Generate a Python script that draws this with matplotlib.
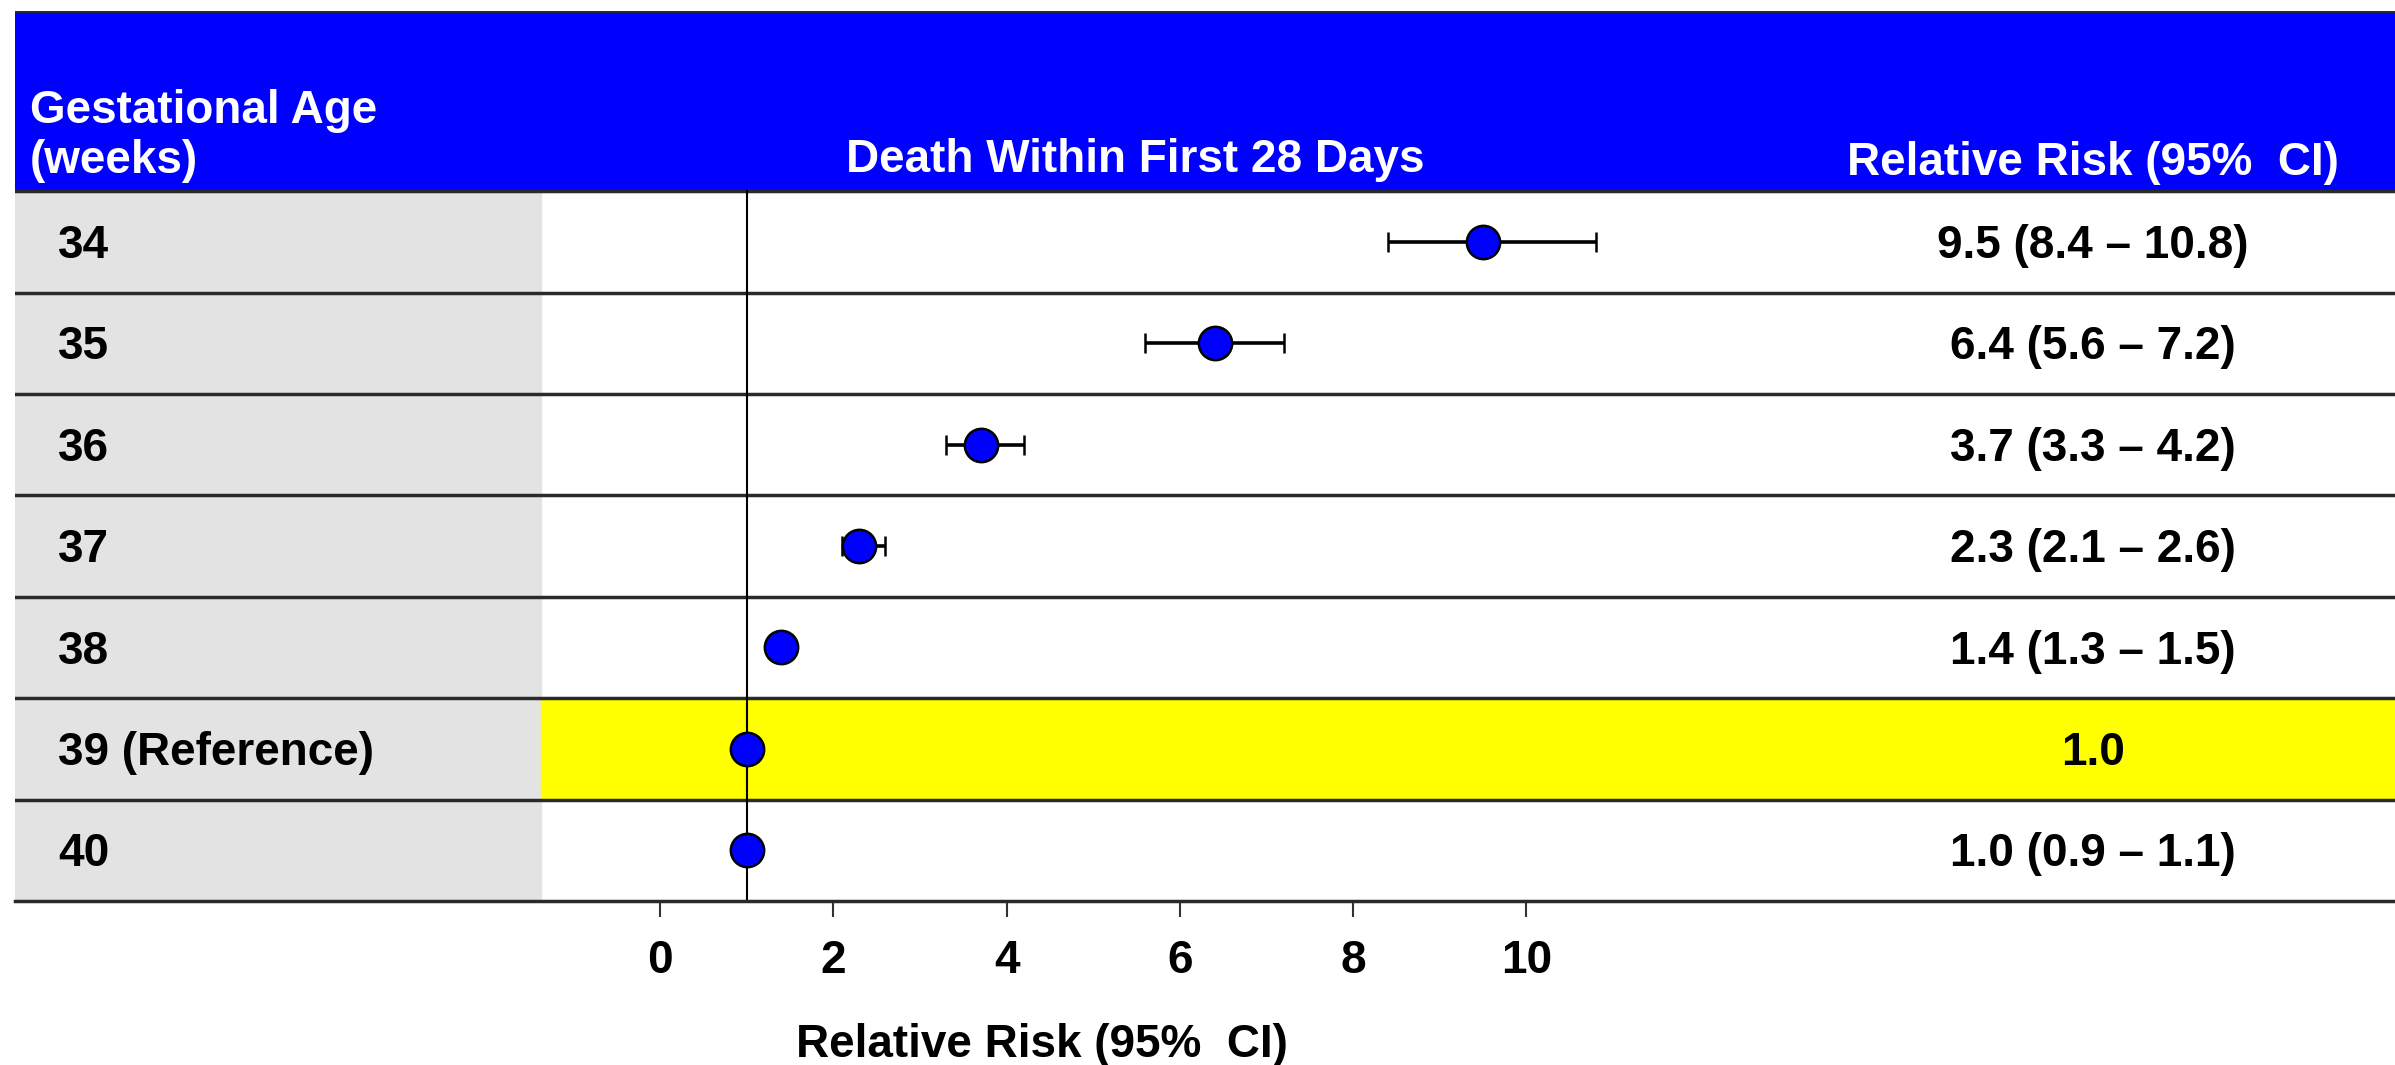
import matplotlib.pyplot as plt
from matplotlib.patches import Rectangle

# table data
weeks = ['34', '35', '36', '37', '38', '39 (Reference)', '40']
rr = [9.5, 6.4, 3.7, 2.3, 1.4, 1.0, 1.0]
lo = [8.4, 5.6, 3.3, 2.1, 1.3, 1.0, 0.9]
hi = [10.8, 7.2, 4.2, 2.6, 1.5, 1.0, 1.1]
rr_text = ['9.5 (8.4 \u2013 10.8)', '6.4 (5.6 \u2013 7.2)', '3.7 (3.3 \u2013 4.2)',
           '2.3 (2.1 \u2013 2.6)', '1.4 (1.3 \u2013 1.5)', '1.0', '1.0 (0.9 \u2013 1.1)']
ref_row = 5
xticks = [0, 2, 4, 6, 8, 10]

plt.rcParams['font.family'] = ['Liberation Sans', 'DejaVu Sans']
plt.rcParams['font.weight'] = 'bold'
fs = 33

fig = plt.figure(figsize=(23.95, 10.65), dpi=100)
ax = fig.add_axes([15/2395, 164/1065, 2380/2395, 890/1065])

n = len(weeks)
ypos = [n - 1 - i for i in range(n)]
head_top = n - 0.5 + 1.776
ax.set_xlim(-7.45, 20.03)
ax.set_ylim(-0.5, head_top)

tr = ax.get_yaxis_transform()
gray_end = 0.221
dy = -0.04  # text sits a touch below row centre

# header, gray column, highlighted reference row
ax.add_patch(Rectangle((0, n - 0.5), 1, 1.776, transform=tr, color='#0000FF', zorder=0))
ax.add_patch(Rectangle((0, -0.5), gray_end, n, transform=tr, color='#E3E3E3', zorder=0))
ax.add_patch(Rectangle((gray_end, ypos[ref_row] - 0.5), 1 - gray_end, 1, transform=tr,
                       color='#FFFF00', zorder=0))

# row separators
for k in range(n):
    ax.axhline(k + 0.5, color='#2a2a2a', lw=2.5, zorder=1)
ax.axhline(head_top, color='#2a2a2a', lw=2, zorder=1)

ax.plot([1, 1], [-0.5, n - 0.5], color='black', lw=1.5, zorder=2)

# estimates with CI
xerr = [[r - l for r, l in zip(rr, lo)], [h - r for r, h in zip(rr, hi)]]
ax.errorbar(rr, ypos, xerr=xerr, fmt='o', color='black', ecolor='black',
            markerfacecolor='#0000FF', markeredgecolor='black', markeredgewidth=1.8,
            markersize=24, elinewidth=2.6, capsize=7.5, capthick=2.6, zorder=3)

# text columns
for y, w, t in zip(ypos, weeks, rr_text):
    ax.text(0.018, y + dy, w, transform=tr, fontsize=fs, fontweight='bold', va='center', ha='left')
    ax.text(0.873, y + dy, t, transform=tr, fontsize=fs, fontweight='bold', va='center', ha='center')

ax.text(0.0063, 7.29, 'Gestational Age', transform=tr, fontsize=fs, fontweight='bold',
        color='white', va='center', ha='left')
ax.text(0.0063, 6.80, '(weeks)', transform=tr, fontsize=fs, fontweight='bold',
        color='white', va='center', ha='left')
ax.text(0.4706, 6.81, 'Death Within First 28 Days', transform=tr, fontsize=fs,
        fontweight='bold', color='white', va='center', ha='center')
ax.text(0.873, 6.78, 'Relative Risk (95%  CI)', transform=tr, fontsize=fs,
        fontweight='bold', color='white', va='center', ha='center')

# axis styling
for s in ['top', 'right', 'left']:
    ax.spines[s].set_visible(False)
ax.spines['bottom'].set_linewidth(2.5)
ax.spines['bottom'].set_color('#2a2a2a')
ax.set_yticks([])
ax.set_xticks(xticks)
ax.set_xticklabels([str(t) for t in xticks], fontsize=fs, fontweight='bold')
ax.tick_params(axis='x', length=11.5, width=1.5, pad=16, color='#333333')

fig.text(1042/2395, 1 - 1045/1065, 'Relative Risk (95%  CI)', fontsize=fs,
         fontweight='bold', ha='center', va='center')

fig.savefig('out.png', dpi=100)
